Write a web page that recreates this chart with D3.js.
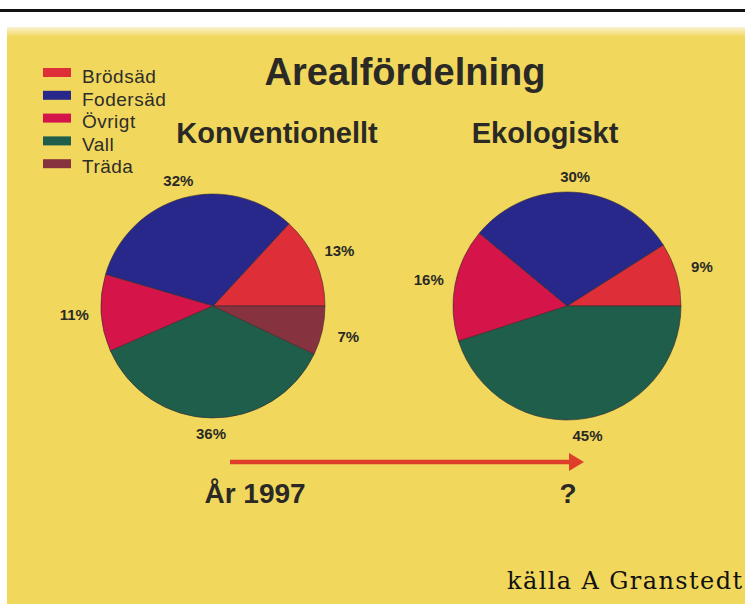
<!DOCTYPE html>
<html>
<head>
<meta charset="utf-8">
<script src="https://cdn.jsdelivr.net/npm/d3@7"></script>
<style>
  html, body { margin: 0; padding: 0; background: #ffffff; }
  svg { display: block; }
</style>
</head>
<body>
<div id="chart"></div>
<script>
// ---- data ----
const categories = ["Brödsäd", "Fodersäd", "Övrigt", "Vall", "Träda"];
const colors = ["#de2f38", "#28278a", "#d51549", "#1f5e4b", "#87323f"];
const konventionellt = [13, 32, 11, 36, 7];
const ekologiskt = [9, 30, 16, 45, 0];
const pieTitles = ["Konventionellt", "Ekologiskt"];
const mainTitle = "Arealfördelning";
const timeLabels = ["År 1997", "?"];
const sourceText = "källa A Granstedt";

const W = 745, H = 604;
const svg = d3.select("#chart").append("svg")
  .attr("width", W).attr("height", H)
  .style("font-family", "'Liberation Sans', Arial, sans-serif");

// page background + rule
svg.append("rect").attr("width", W).attr("height", H).attr("fill", "#ffffff");
svg.append("rect").attr("x", 0).attr("y", 9).attr("width", W).attr("height", 3).attr("fill", "#111");

const defs = svg.append("defs");
const grad = defs.append("linearGradient").attr("id", "topfade")
  .attr("x1", 0).attr("y1", 0).attr("x2", 0).attr("y2", 1);
grad.append("stop").attr("offset", "0%").attr("stop-color", "#faf3d2");
grad.append("stop").attr("offset", "100%").attr("stop-color", "#f1d85c");

svg.append("rect").attr("x", 7).attr("y", 29).attr("width", W - 7).attr("height", H - 29)
  .attr("fill", "#f1d85c");
svg.append("rect").attr("x", 7).attr("y", 27).attr("width", W - 7).attr("height", 10)
  .attr("fill", "url(#topfade)");

const textColor = "#2a2926";

// title
svg.append("text").attr("x", 405).attr("y", 85).attr("text-anchor", "middle")
  .attr("font-size", 38).attr("font-weight", "bold").attr("fill", textColor)
  .text(mainTitle);

// legend
const legend = svg.append("g");
categories.forEach((c, i) => {
  legend.append("rect").attr("x", 43).attr("y", 68 + i * 22.8)
    .attr("width", 28).attr("height", 9).attr("fill", colors[i]);
  legend.append("text").attr("x", 82).attr("y", 83 + i * 22.5)
    .attr("font-size", 19).attr("letter-spacing", 0.5).attr("fill", "#2e2d2a")
    .text(c);
});

// pies
const color = d3.scaleOrdinal().domain(categories).range(colors);
const pie = d3.pie().sort(null).value(d => d.value)
  .startAngle(Math.PI / 2).endAngle(Math.PI / 2 - 2 * Math.PI);

const pies = [
  { values: konventionellt, cx: 213, cy: 306, r: 112, title: pieTitles[0], tx: 277 },
  { values: ekologiskt, cx: 567, cy: 306, r: 114, title: pieTitles[1], tx: 545 }
];

pies.forEach(p => {
  const data = categories.map((c, i) => ({ cat: c, value: p.values[i] }));
  const arcs = pie(data);
  const arc = d3.arc().innerRadius(0).outerRadius(p.r);
  const g = svg.append("g").attr("transform", `translate(${p.cx},${p.cy})`);
  g.selectAll("path").data(arcs.filter(d => d.data.value > 0)).join("path")
    .attr("d", arc)
    .attr("fill", d => color(d.data.cat))
    .attr("stroke", "#3a2a30").attr("stroke-width", 0.6);
  g.selectAll("text").data(arcs.filter(d => d.data.value > 0)).join("text")
    .attr("transform", d => {
      const a = (d.startAngle + d.endAngle) / 2;
      const R = p.r + 15 + 12 * Math.abs(Math.sin(a));
      return `translate(${R * Math.sin(a)},${-R * Math.cos(a)})`;
    })
    .attr("text-anchor", "middle").attr("dy", "0.36em")
    .attr("font-size", 15).attr("font-weight", "bold").attr("fill", textColor)
    .text(d => d.data.value + "%");
  svg.append("text").attr("x", p.tx).attr("y", 143).attr("text-anchor", "middle")
    .attr("font-size", 29).attr("font-weight", "bold").attr("fill", textColor)
    .text(p.title);
});

// arrow
svg.append("line").attr("x1", 230).attr("y1", 462).attr("x2", 572).attr("y2", 462)
  .attr("stroke", "#df3f2a").attr("stroke-width", 4.5);
svg.append("path").attr("d", "M569,453 L584,462 L569,471 Z").attr("fill", "#df3f2a");

// time labels
svg.append("text").attr("x", 255).attr("y", 503).attr("text-anchor", "middle")
  .attr("font-size", 28).attr("font-weight", "bold").attr("fill", textColor)
  .text(timeLabels[0]);
svg.append("text").attr("x", 568).attr("y", 503).attr("text-anchor", "middle")
  .attr("font-size", 28).attr("font-weight", "bold").attr("fill", textColor)
  .text(timeLabels[1]);

// source
svg.append("text").attr("x", 507).attr("y", 589)
  .attr("font-family", "'DejaVu Serif', serif").attr("font-size", 24)
  .attr("letter-spacing", 1.4).attr("fill", "#111")
  .text(sourceText);
</script>
</body>
</html>
